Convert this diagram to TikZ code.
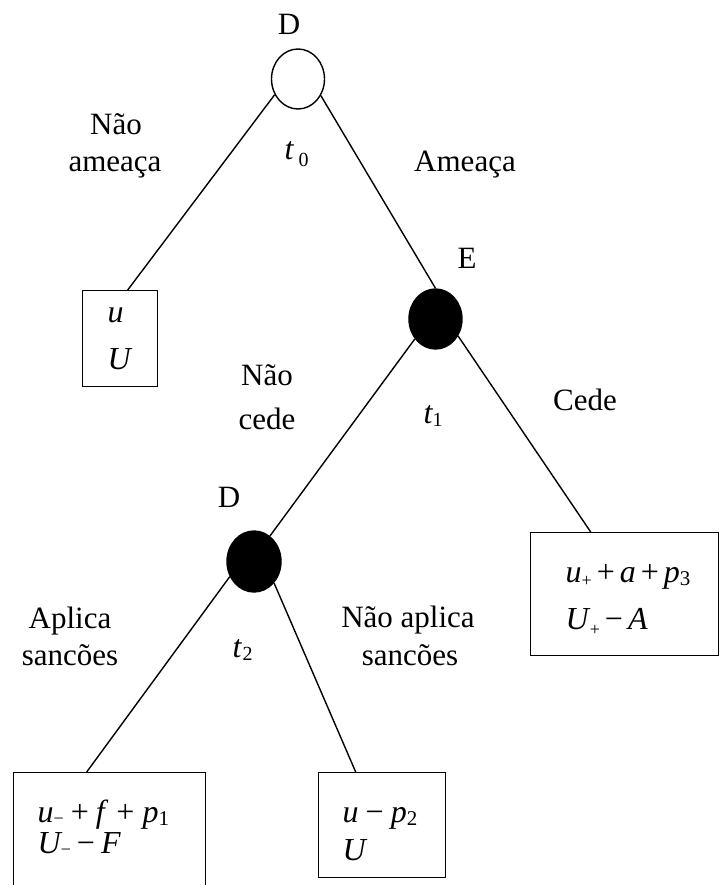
\documentclass[tikz,border=0pt]{standalone}
\usepackage{fontspec}
\setmainfont{Liberation Serif}
\usetikzlibrary{shapes.geometric}
\newcommand\lowsub[3]{\raisebox{-#1pt}{\fontsize{#2}{#2}\selectfont\upshape #3}}
\newcommand\opr[2]{\hspace{#1pt}\textup{#2}\hspace{#1pt}}
\begin{document}
\begin{tikzpicture}[x=1pt,y=-1pt,line width=1.4pt,
  lbl/.style={font=\fontsize{31}{36}\selectfont,inner sep=0pt,anchor=base},
  var/.style={font=\fontsize{32}{38}\selectfont\itshape,inner sep=0pt,anchor=base west},
  chance/.style={ellipse,draw,minimum width=53pt,minimum height=60pt,inner sep=0pt},
  payoff/.style={draw,rectangle,inner sep=0pt,anchor=north west}]
\useasboundingbox (0,0) rectangle (720,885);
\clip (0,0) rectangle (720,885);
% decision / chance nodes
\node[chance] (d0) at (298,79) {};
\node[chance,fill=black] (e) at (435.5,319) {};
\node[chance,fill=black,minimum width=54pt,minimum height=61pt] (d2) at (254,561.5) {};
% payoff boxes
\node[payoff,minimum width=75pt,minimum height=96pt] (b1) at (82,290) {};
\node[payoff,minimum width=188pt,minimum height=123pt] (b4) at (530,532) {};
\node[payoff,minimum width=192pt,minimum height=140pt] (b2) at (13,772) {};
\node[payoff,minimum width=127pt,minimum height=105pt] (b3) at (318,772) {};
% edges
\draw (d0.214.7) -- ([xshift=7.5pt]b1.north);
\draw (d0.324) -- (e.north);
\draw (e.224) -- (d2.58.6);
\draw (e.323) -- ([xshift=-34pt]b4.north);
\draw (d2.212) -- ([xshift=-23pt]b2.north);
\draw (d2.313) -- ([xshift=-26.5pt]b3.north);
% player labels
\node[lbl] (ld0) at (289,35) {D};
\node[lbl] (le) at (467,268) {E};
\node[lbl] (ld2) at (229,507) {D};
% time labels
\node[var] (t0) at (284,160) {t\hspace{5pt}\lowsub{7}{20}{0}};
\node[var] (t1) at (423,423) {t\lowsub{3}{20}{1}};
\node[var] (t2) at (232,657) {t\hspace{1pt}\lowsub{3}{20}{2}};
% action labels
\node[lbl] (a1) at (116,135) {Não};
\node[lbl] (a1b) at (115,172) {ameaça};
\node[lbl] (a2) at (465,172) {Ameaça};
\node[lbl] (a3) at (267,385) {Não};
\node[lbl] (a3b) at (267,429) {cede};
\node[lbl] (a4) at (585,410) {Cede};
\node[lbl] (a5) at (70,628) {Aplica};
\node[lbl] (a5b) at (70,665) {sancões};
\node[lbl] (a6) at (408,627) {Não aplica};
\node[lbl] (a6b) at (410,665) {sancões};
% payoffs
\node[var] (p1a) at (107,322) {u};
\node[var] (p1b) at (107,369) {U};
\node[var] (p4a) at (565,582) {u\lowsub{4}{18}{+}\opr{5}{+}a\opr{5}{+}p\lowsub{3}{21}{3}};
\node[var] (p4b) at (565,629) {U\hspace{1pt}\lowsub{6}{18}{+}\opr{5}{−}A};
\node[var] (p2a) at (37,822) {u\lowsub{2}{18}{−}\opr{7}{+}f\opr{8}{+}p\lowsub{3}{21}{1}};
\node[var] (p2b) at (37,853) {U\lowsub{2}{18}{−}\opr{6}{−}F};
\node[var] (p3a) at (342,822) {u\opr{7}{−}p\lowsub{3}{21}{2}};
\node[var] (p3b) at (342,860) {U};
\end{tikzpicture}
\end{document}
